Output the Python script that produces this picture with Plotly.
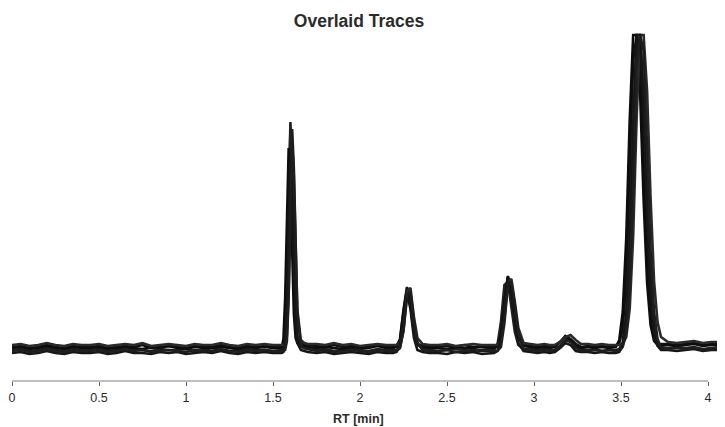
import plotly.graph_objects as go

# Retention time grid (min)
RT = [
    0.00, 0.05, 0.10, 0.15, 0.20, 0.25, 0.30, 0.35, 0.40, 0.45, 0.50, 0.55, 0.60, 0.65, 0.70, 0.75,
    0.80, 0.85, 0.90, 0.95, 1.00, 1.05, 1.10, 1.15, 1.20, 1.25, 1.30, 1.35, 1.40, 1.45, 1.50, 1.55,
    1.56, 1.57, 1.58, 1.59, 1.60, 1.61, 1.62, 1.63, 1.64, 1.66, 1.68, 1.70,
    1.75, 1.80, 1.85, 1.90, 1.95, 2.00, 2.05, 2.10, 2.15,
    2.19, 2.21, 2.23, 2.25, 2.27, 2.29, 2.31, 2.33, 2.36, 2.40,
    2.45, 2.50, 2.55, 2.60, 2.65, 2.70, 2.74,
    2.77, 2.79, 2.81, 2.83, 2.85, 2.87, 2.89, 2.91, 2.94, 2.98,
    3.02, 3.06, 3.09,
    3.12, 3.15, 3.18, 3.21, 3.24, 3.27,
    3.31, 3.35, 3.39, 3.43,
    3.47, 3.49, 3.51, 3.53, 3.55, 3.57, 3.59, 3.61, 3.63, 3.65, 3.67, 3.69, 3.71, 3.73,
    3.77, 3.82, 3.87, 3.92, 3.97, 4.02, 4.07, 4.10,
]

TRACE_A = [
    2, 3, 1, 2, 4, 2, 1, 3, 2, 2, 3, 1, 2, 3, 2, 4,
    1, 2, 3, 2, 1, 3, 2, 2, 4, 2, 1, 3, 2, 3, 2, 2,
    3, 12, 56, 155, 217, 178, 101, 39, 13, 6, 4, 4,
    3, 2, 4, 2, 3, 2, 3, 4, 2,
    2, 3, 10, 39, 62, 45, 17, 5, 3, 3,
    2, 3, 2, 4, 2, 3, 2,
    2, 4, 15, 49, 73, 59, 31, 12, 4, 3,
    2, 3, 3,
    3, 7, 13, 10, 5, 2,
    3, 2, 3, 2,
    3, 6, 20, 68, 167, 289, 314, 302, 200, 101, 40, 13, 5, 5,
    5, 4, 5, 6, 4, 5, 5, 4,
]

TRACE_B = [
    -1, 0, -2, -1, 1, -1, -2, 0, -1, -1, 0, -2, -1, 1, -1, -1,
    -2, 0, -1, -1, 0, -2, -1, 1, -1, -2, -1, 0, -1, -1, -2, -1,
    0, 9, 56, 161, 227, 186, 104, 38, 10, 2, 1, 0,
    -1, 0, -2, -1, 0, -1, -2, 0, -1,
    -1, -1, 2, 18, 52, 54, 26, 6, 0, -1,
    -2, -1, 0, -1, -2, -1, 0,
    -1, 4, 27, 64, 67, 43, 17, 4, 0, 0,
    -1, 0, -1,
    -1, 3, 8, 9, 4, 0,
    -1, 0, -2, -1,
    -1, 0, 7, 35, 108, 227, 314, 314, 253, 146, 63, 21, 6, 2,
    1, 2, 1, 2, 0, 1, 2, 1,
]

TRACE_C = [
    1, 2, 0, 1, 3, 1, 0, 2, 1, 1, 2, 0, 1, 2, 1, 0,
    2, 1, 3, 1, 0, 2, 1, 1, 2, 1, 0, 2, 1, 2, 1, 1,
    10, 51, 143, 201, 165, 93, 35, 11, 6, 4, 3, 2,
    1, 2, 1, 0, 2, 1, 1, 3, 1,
    1, 2, 9, 37, 60, 43, 16, 4, 2, 1,
    1, 0, 2, 1, 1, 2, 1,
    1, 3, 15, 48, 72, 58, 31, 11, 3, 2,
    1, 2, 1,
    2, 7, 12, 9, 3, 1,
    2, 1, 2, 1,
    2, 9, 37, 110, 229, 314, 314, 255, 149, 66, 24, 8, 4, 4,
    4, 3, 4, 5, 3, 4, 4, 3,
]

TRACE_D = [
    4, 5, 3, 4, 6, 4, 3, 5, 4, 4, 5, 3, 4, 5, 4, 6,
    3, 4, 5, 4, 3, 5, 4, 4, 6, 4, 3, 5, 4, 5, 4, 4,
    4, 5, 13, 55, 150, 209, 172, 98, 39, 9, 6, 5,
    5, 4, 6, 4, 5, 3, 4, 5, 4,
    4, 4, 7, 24, 58, 61, 32, 11, 5, 4,
    4, 5, 3, 4, 5, 4, 4,
    4, 4, 9, 31, 67, 70, 47, 21, 6, 5,
    4, 5, 4,
    4, 7, 12, 14, 9, 5,
    5, 4, 5, 4,
    4, 4, 5, 12, 40, 113, 232, 314, 314, 258, 151, 68, 27, 12,
    7, 6, 7, 8, 6, 7, 7, 6,
]

TRACE_E = [
    -4, -3, -5, -4, -2, -4, -5, -3, -4, -4, -3, -5, -4, -2, -4, -4,
    -5, -3, -4, -3, -5, -4, -3, -4, -2, -4, -5, -3, -4, -3, -4, -4,
    -3, 5, 44, 131, 186, 152, 83, 28, 6, -1, -2, -3,
    -4, -3, -5, -4, -3, -4, -5, -3, -4,
    -4, -3, 4, 33, 56, 40, 11, -1, -3, -4,
    -4, -5, -3, -4, -3, -5, -4,
    -4, -2, 10, 44, 68, 53, 25, 6, -2, -3,
    -4, -3, -4,
    -3, 1, 6, 4, -2, -3,
    -3, -4, -3, -4,
    -4, -3, 4, 31, 102, 217, 314, 314, 242, 138, 57, 18, 3, -1,
    -1, -2, -1, 0, -2, -1, -1, -2,
]

TRACE_F = [
    -2, -1, -3, -2, 0, -2, -3, -1, -2, -2, -1, -3, -2, 0, -2, -1,
    -3, -2, -1, -2, -3, -1, -2, -2, 0, -2, -3, -1, -2, -1, -2, -2,
    -2, -1, 8, 53, 156, 220, 180, 100, 36, 4, 1, 0,
    -2, -1, -3, -2, -1, -2, -3, -1, -2,
    -2, -2, 1, 19, 55, 57, 28, 6, -1, -2,
    -2, -1, -3, -2, -1, -2, -2,
    -2, -2, 2, 26, 64, 67, 43, 16, 0, -1,
    -2, -1, -2,
    -1, 3, 9, 7, 1, -2,
    -2, -1, -2, -1,
    -2, -2, 2, 16, 64, 163, 285, 314, 298, 196, 98, 37, 10, 1,
    0, 1, 0, 1, -1, 0, 1, 0,
]

TRACES = [TRACE_A, TRACE_B, TRACE_C, TRACE_D, TRACE_E, TRACE_F]
TICK_VALS = [0, 0.5, 1, 1.5, 2, 2.5, 3, 3.5, 4]
TICK_TEXT = ["0", "0.5", "1", "1.5", "2", "2.5", "3", "3.5", "4"]

for t in TRACES:
    assert len(t) == len(RT), (len(t), len(RT))

COLORS = ["#111111", "#222222", "#0d0d0d", "#2a2a2a", "#161616", "#1e1e1e"]

fig = go.Figure()
for vals, col in zip(TRACES, COLORS):
    fig.add_trace(go.Scatter(x=RT, y=vals, mode="lines",
                             line=dict(color=col, width=2.6),
                             hoverinfo="skip", showlegend=False))

# the page body has an 8px default margin, so the figure is 8px smaller
W, H = 717, 419
fig.update_layout(
    width=W, height=H,
    margin=dict(l=4, r=0, t=22, b=46),
    paper_bgcolor="white", plot_bgcolor="white",
    font=dict(family="Liberation Sans, Arial, sans-serif", color="#2b2b2b", size=12.5),
    title=dict(text="<b>Overlaid Traces</b>", xref="container", x=351 / W, xanchor="center",
               yref="container", y=1 - 13 / H, yanchor="middle",
               font=dict(size=17.5, color="#2b2b2b")),
    xaxis=dict(range=[0, 713 / 174], showgrid=False, zeroline=False, showline=False,
               tickvals=TICK_VALS, ticktext=TICK_TEXT, ticks="outside", ticklen=4,
               tickwidth=1, tickcolor="#666666", ticklabelstandoff=1,
               tickfont=dict(size=12.5, color="#2b2b2b")),
    yaxis=dict(range=[-32, 319], visible=False),
    shapes=[dict(type="line", xref="x", yref="paper", x0=0, x1=4, y0=0, y1=0,
                 line=dict(color="#808080", width=1))],
    annotations=[dict(text="<b>RT [min]</b>", xref="paper", yref="paper",
                      x=(358 - 12) / 713, y=0, yshift=-38, xanchor="center", yanchor="middle",
                      showarrow=False, font=dict(size=12.5, color="#2b2b2b"))],
)

fig.write_html("out.html")
